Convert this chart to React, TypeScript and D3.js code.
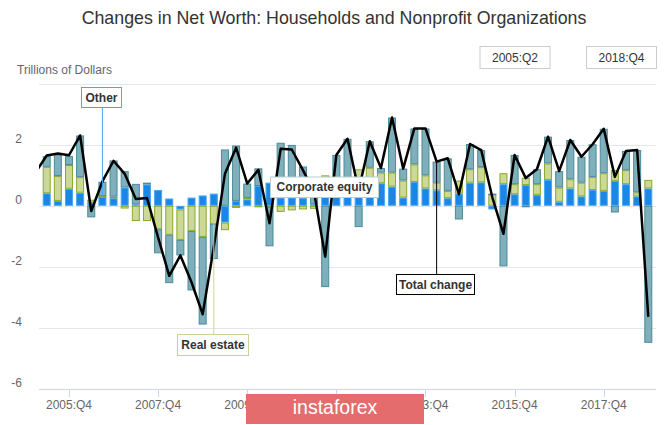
import React from "react";
import * as d3 from "d3";

// quarters shown as bars: 2005:Q2 .. 2018:Q4
const quarters: string[] = [];
for (let yr = 2005; yr <= 2018; yr++) {
  for (let q = 1; q <= 4; q++) {
    if (yr === 2005 && q === 1) continue;
    quarters.push(`${yr}:Q${q}`);
  }
}
// the total line also runs in from 2005:Q1 (clipped at the plot edge)
const lineQuarters = ["2005:Q1", ...quarters];

// trillions of dollars
const other = [
  0.41, 0.16, 0.56, 0.43, 0.1, 0.3, 0.25, 0.6, 0.05, 0.7,
  0.52, 0.24, -0.12, 0.27, 0.34, 0.4, -0.55, 0.16, 0.21, 0.65,
  0.76, 0.27, 0.27, 0.25, 0.05, 0.35, 0.3, 0.35, 0.55, 0.75,
  0.74, 0.63, 0.27, 0.78, 0.57, 0.51, 0.25, 0.4, 0.76, 0.77,
  -0.12, 0.71, 0.38, 0.68, 0.36, 0.85, 0.13, 0.57, 0.31, 0.52,
  0.49, 0.82, 0.71, 0.31, 0.57,
];
const realEstate = [
  0.87, 0.82, 0.78, 0.51, 0.1, 0.02, 0.05, -0.09, -0.5, -0.5,
  -0.77, -0.95, -1.0, -0.83, -1.02, -0.6, -0.25, -0.07, 0.05, -0.05,
  -0.03, -0.2, -0.15, -0.12, -0.1, 0.65, 0.15, 0.1, 0.65, 0.5,
  0.35, 0.46, 0.56, 0.58, 0.43, 0.25, 0.24, 0.43, 0.44, 0.5,
  0.38, 0.36, 0.33, 0.24, 0.35, 0.54, 0.47, 0.3, 0.45, 0.43,
  0.58, 0.35, 0.46, 0.13, 0.28,
];
const corporateEquity = [
  0.35, 0.7, 0.29, 1.37, -0.38, 0.47, 1.19, 0.54, 0.67, 0.06,
  -0.79, -1.59, -0.51, -1.95, -2.88, -1.15, 1.85, 1.82, 0.47, 0.58,
  -1.3, 1.8, 1.73, 1.04, 0.5, -2.67, 1.22, 1.75, -0.7, 0.87,
  0.15, 1.81, 0.39, 1.18, 1.54, 0.69, 1.07, -0.45, 0.83, 0.56,
  0.02, -1.99, 0.96, -0.01, 0.49, 0.88, 0.54, 1.29, 0.85, 1.07,
  1.46, -0.22, 0.63, 1.39, -4.5,
];
const totalChange = [
  1.1,
  1.65, 1.72, 1.66, 2.31, -0.17, 0.8, 1.48, 1.05, 0.22, 0.26,
  -1.04, -2.3, -1.63, -2.51, -3.56, -1.35, 1.05, 1.91, 0.73, 1.18,
  -0.57, 1.87, 1.85, 1.17, 0.45, -1.67, 1.67, 2.2, 0.5, 2.12,
  1.24, 2.9, 1.22, 2.54, 2.54, 1.45, 1.56, 0.38, 2.03, 1.83,
  0.28, -0.92, 1.67, 0.91, 1.2, 2.27, 1.14, 2.16, 1.61, 2.02,
  2.53, 0.95, 1.8, 1.83, -3.65,
];

const xTicks = ["2005:Q4", "2007:Q4", "2009:Q4", "2011:Q4", "2013:Q4", "2015:Q4", "2017:Q4"];
const gridValues = [4, 2, 0, -2, -4];
const yTickLabels = [2, 0, -2, -4, -6];

const keys = ["other", "realEstate", "corporateEquity"] as const;
const seriesStyle: Record<string, { fill: string; stroke: string }> = {
  other: { fill: "#1a87e6", stroke: "#48a7f2" },
  realEstate: { fill: "#cbd896", stroke: "#8ba82c" },
  corporateEquity: { fill: "#7eafba", stroke: "#4a8b99" },
};

const font = "'Liberation Sans', Arial, sans-serif";
const plot = { left: 39, right: 656, top: 84, bottom: 388.5 };

export default function App() {
  const x = d3.scaleLinear().domain([0, quarters.length - 1]).range([46.7, 648.3]);
  const y = d3.scaleLinear().domain([-6, 4]).range([plot.bottom, plot.top]);
  const xq = (q: string) => x(quarters.indexOf(q));
  const xl = (q: string) => x(lineQuarters.indexOf(q) - 1);

  const rows = quarters.map((q, i) => ({
    q,
    other: other[i],
    realEstate: realEstate[i],
    corporateEquity: corporateEquity[i],
  }));
  const stacked = d3
    .stack<any>()
    .keys(keys as unknown as string[])
    .offset(d3.stackOffsetDiverging)(rows);

  const linePts = lineQuarters.map((q, i) => ({ q, v: totalChange[i] }));
  const linePath = d3
    .line<{ q: string; v: number }>()
    .x((d) => xl(d.q))
    .y((d) => y(d.v))(linePts);

  const barW = 7;

  const label = (
    text: string,
    bx: number,
    by: number,
    bw: number,
    bh: number,
    border: string
  ) => (
    <g>
      <rect x={bx + 0.5} y={by + 0.5} width={bw} height={bh} fill="#fff" stroke={border} strokeWidth={1} />
      <text
        x={bx + bw / 2 + 0.5}
        y={by + bh / 2 + 4.5}
        textAnchor="middle"
        fontFamily={font}
        fontSize={12}
        fontWeight="bold"
        fill="#333"
      >
        {text}
      </text>
    </g>
  );

  return (
    <svg
      width={665}
      height={425}
      style={{ position: "absolute", left: 0, top: 0, background: "#fff" }}
    >
      <defs>
        <clipPath id="plotClip">
          <rect x={plot.left} y={0} width={plot.right - plot.left} height={425} />
        </clipPath>
      </defs>

      <text x={334} y={24} textAnchor="middle" fontFamily={font} fontSize={17.8} fill="#333">
        Changes in Net Worth: Households and Nonprofit Organizations
      </text>
      <text x={17} y={74} fontFamily={font} fontSize={12} fill="#666">
        Trillions of Dollars
      </text>

      {/* range boxes */}
      {[
        { t: quarters[0], x0: 479.5 },
        { t: quarters[quarters.length - 1], x0: 586 },
      ].map((b) => (
        <g key={b.t}>
          <rect x={b.x0 + 0.5} y={46.5} width={70} height={22} fill="#fff" stroke="#cccccc" />
          <text x={b.x0 + 35.5} y={62} textAnchor="middle" fontFamily={font} fontSize={12} fill="#333">
            {b.t}
          </text>
        </g>
      ))}

      {/* gridlines */}
      {gridValues.map((v) => (
        <line
          key={v}
          x1={plot.left}
          x2={plot.right}
          y1={Math.round(y(v)) + 0.5}
          y2={Math.round(y(v)) + 0.5}
          stroke="#e6e6e6"
        />
      ))}
      <line
        x1={plot.left}
        x2={plot.right}
        y1={Math.round(y(-6)) + 0.5}
        y2={Math.round(y(-6)) + 0.5}
        stroke="#ccd6eb"
      />
      {yTickLabels.map((v) => (
        <text key={v} x={22} y={y(v) - 2} textAnchor="end" fontFamily={font} fontSize={12} fill="#666">
          {v}
        </text>
      ))}

      {/* x ticks */}
      {xTicks.map((t) => (
        <g key={t}>
          <line
            x1={Math.round(xq(t)) + 0.5}
            x2={Math.round(xq(t)) + 0.5}
            y1={Math.round(y(-6))}
            y2={Math.round(y(-6)) + 8}
            stroke="#ccd6eb"
          />
          <text x={xq(t)} y={409} textAnchor="middle" fontFamily={font} fontSize={12} fill="#666">
            {t}
          </text>
        </g>
      ))}

      {/* stacked bars */}
      {stacked.map((s) => (
        <g key={s.key}>
          {s.map((d, i) => {
            const y0 = y(d[0]);
            const y1 = y(d[1]);
            const h = Math.abs(y0 - y1);
            if (h < 0.3) return null;
            return (
              <rect
                key={i}
                x={x(i) - barW / 2}
                y={Math.min(y0, y1) + 0.5}
                width={barW}
                height={Math.max(h - 1, 0.5)}
                fill={seriesStyle[s.key].fill}
                stroke={seriesStyle[s.key].stroke}
                strokeWidth={1}
              />
            );
          })}
        </g>
      ))}

      {/* total change line */}
      <path d={linePath ?? ""} fill="none" stroke="#000" strokeWidth={2.5} strokeLinejoin="round" clipPath="url(#plotClip)" />

      {/* series labels */}
      <line x1={xq("2006:Q3")} x2={xq("2006:Q3")} y1={108} y2={y(other[5])} stroke="#48a7f2" />
      {label("Other", 81, 87, 40, 20, "#48a7f2")}

      <line x1={xq("2009:Q1")} x2={xq("2009:Q1")} y1={y(other[15] + realEstate[15])} y2={334} stroke="#cbd896" />
      {label("Real estate", 177, 334, 71, 21, "#c6d19b")}

      {label("Corporate equity", 270, 176.5, 108, 20.5, "#b9cfd4")}

      <line x1={xq("2014:Q1")} x2={xq("2014:Q1")} y1={y(totalChange[36])} y2={274} stroke="#000" />
      {label("Total change", 396, 274, 78, 20, "#000")}

      {/* watermark */}
      <rect x={246} y={394} width={178} height={30} fill="#e46c6c" />
      <text x={335} y={414} textAnchor="middle" fontFamily={font} fontSize={19.5} fill="#fff">
        instaforex
      </text>
    </svg>
  );
}
